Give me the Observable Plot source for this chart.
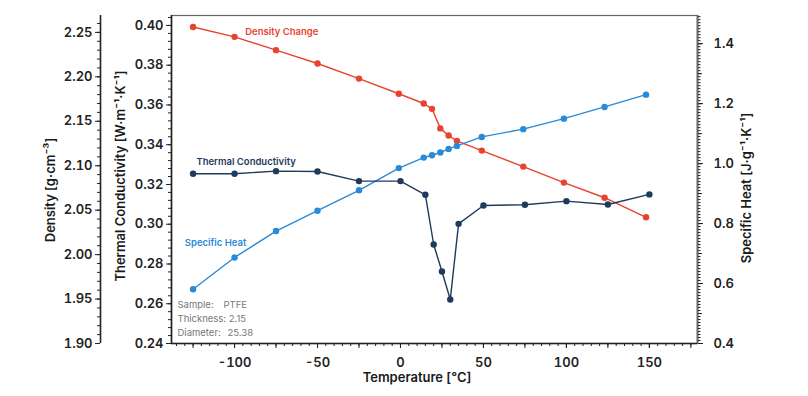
<!DOCTYPE html>
<html>
<head>
<meta charset="utf-8">
<script src="https://cdn.jsdelivr.net/npm/d3@7"></script>
<script src="https://cdn.jsdelivr.net/npm/@observablehq/plot@0.6"></script>
<style>
  html, body { margin: 0; padding: 0; background: #fff; }
  #wrap { position: relative; width: 808px; height: 396px; font-family: Inter, "Noto Sans", sans-serif; }
  #wrap svg { position: absolute; left: 0; top: 0; }
  .title { position: absolute; font-size: 13px; font-weight: 600; color: #1a1a1a; white-space: nowrap; transform: translate(-50%, -50%); }
  .rot { transform: translate(-50%, -50%) rotate(-90deg); }
</style>
</head>
<body>
<div id="wrap"></div>
<script>
// ---- data ----
const tcTemps = [-125, -100, -75, -50, -25, 0, 15, 20, 25, 30, 35, 50, 75, 100, 125, 150];
const tcValues = [0.3254, 0.3254, 0.3267, 0.3265, 0.3217, 0.3217, 0.3148, 0.2898, 0.2762, 0.2621, 0.3002, 0.3094, 0.3098, 0.3116, 0.3099, 0.3150];
const densTemps = [-125, -100, -75, -50, -25, -1, 14, 19, 24, 29, 34, 49, 74, 98.5, 123, 148];
const densValues = [2.256, 2.245, 2.230, 2.215, 2.198, 2.181, 2.170, 2.164, 2.142, 2.134, 2.128, 2.117, 2.099, 2.081, 2.064, 2.042];
const shTemps = [-125, -100, -75, -50, -25, -1, 14, 19, 24, 29, 34, 49, 74, 98.5, 123, 148];
const shValues = [0.581, 0.687, 0.775, 0.843, 0.911, 0.985, 1.020, 1.028, 1.037, 1.049, 1.059, 1.089, 1.115, 1.150, 1.189, 1.230];

const xTickLabels = [-100, -50, 0, 50, 100, 150];
const tcTickLabels = [0.24, 0.26, 0.28, 0.30, 0.32, 0.34, 0.36, 0.38, 0.40];
const densTickLabels = [1.90, 1.95, 2.00, 2.05, 2.10, 2.15, 2.20, 2.25];
const shTickLabels = [0.4, 0.6, 0.8, 1.0, 1.2, 1.4];

const colors = { density: "#e8432e", tc: "#1e3a5c", sh: "#2a8ad6", axis: "#222", frame: "#666", note: "#777" };

// ---- layout ----
const W = 808, H = 396;
const M = { top: 15, right: 111, bottom: 53, left: 171 };
const xDomain = [-138, 179];
const tcDomain = [0.24, 0.405];
const densDomain = [1.90, 2.269];
const shDomain = [0.4, 1.494];

const tcData = tcTemps.map((t, i) => ({ t, v: tcValues[i] }));
const densData = densTemps.map((t, i) => ({ t, v: densValues[i] }));
const shData = shTemps.map((t, i) => ({ t, v: shValues[i] }));

const base = {
  width: W, height: H,
  marginTop: M.top, marginRight: M.right, marginBottom: M.bottom, marginLeft: M.left,
  style: { background: "transparent", fontFamily: "Inter, 'Noto Sans', sans-serif", overflow: "visible" }
};
const tickFont = { fontSize: 13, fontWeight: 600, fill: colors.axis };
const minor = (a, b, s) => d3.range(Math.round(a / s), Math.round(b / s) + 1).map(k => +(k * s).toFixed(4));

// Base plot: x axis, TC axis, frame, TC series, notes
const p1 = Plot.plot({
  ...base,
  x: { domain: xDomain },
  y: { domain: tcDomain },
  marks: [
    Plot.frame({ stroke: colors.frame, strokeWidth: 1.2 }),
    Plot.axisX({ ticks: minor(-135, 175, 5), tickSize: 3, text: null, label: null, stroke: colors.axis }),
    Plot.axisX({ ticks: minor(-125, 175, 25), tickSize: 5, text: null, label: null, stroke: colors.axis }),
    Plot.axisX({ ticks: xTickLabels, tickSize: 5, tickPadding: 9, tickFormat: d => String(d), label: null, stroke: colors.axis, ...tickFont }),
    Plot.axisY({ ticks: minor(0.24, 0.404, 0.004), tickSize: 3, text: null, label: null, stroke: colors.axis }),
    Plot.axisY({ ticks: tcTickLabels, tickSize: 5, tickPadding: 3, tickFormat: d3.format(".2f"), label: null, stroke: colors.axis, ...tickFont }),
    Plot.ruleX([xDomain[0]], { stroke: colors.axis, strokeWidth: 1.6 }),
    Plot.ruleY([tcDomain[0]], { stroke: colors.axis, strokeWidth: 1.6 }),
    Plot.line(tcData, { x: "t", y: "v", stroke: colors.tc, strokeWidth: 1.4 }),
    Plot.dot(tcData, { x: "t", y: "v", fill: colors.tc, r: 3.2 }),
    Plot.text(["Thermal Conductivity"], { x: -123, y: 0.3312, textAnchor: "start", fill: colors.tc, fontSize: 9.5, fontWeight: 600 }),
    Plot.text(["Sample:"], { frameAnchor: "bottom-left", dx: 6, dy: -36, textAnchor: "start", fill: colors.note, fontSize: 9.5 }),
    Plot.text(["PTFE"], { frameAnchor: "bottom-left", dx: 52, dy: -36, textAnchor: "start", fill: colors.note, fontSize: 9.5 }),
    Plot.text(["Thickness: 2.15"], { frameAnchor: "bottom-left", dx: 6, dy: -22, textAnchor: "start", fill: colors.note, fontSize: 9.5 }),
    Plot.text(["Diameter:"], { frameAnchor: "bottom-left", dx: 6, dy: -8, textAnchor: "start", fill: colors.note, fontSize: 9.5 }),
    Plot.text(["25.38"], { frameAnchor: "bottom-left", dx: 56, dy: -8, textAnchor: "start", fill: colors.note, fontSize: 9.5 })
  ]
});

// Specific heat plot with right axis
const p2 = Plot.plot({
  ...base,
  x: { domain: xDomain, axis: null },
  y: { domain: shDomain },
  marks: [
    Plot.axisY({ anchor: "right", ticks: minor(0.4, 1.49, 0.01), tickSize: 2.5, text: null, label: null, stroke: colors.axis }),
    Plot.axisY({ anchor: "right", ticks: minor(0.5, 1.45, 0.1), tickSize: 4, text: null, label: null, stroke: colors.axis }),
    Plot.axisY({ anchor: "right", ticks: shTickLabels, tickSize: 5, tickPadding: 11, tickFormat: d3.format(".1f"), label: null, stroke: colors.axis, ...tickFont }),
    Plot.ruleX([xDomain[1]], { stroke: colors.axis, strokeWidth: 1.6 }),
    Plot.line(shData, { x: "t", y: "v", stroke: colors.sh, strokeWidth: 1.4 }),
    Plot.dot(shData, { x: "t", y: "v", fill: colors.sh, r: 3.2 }),
    Plot.text(["Specific Heat"], { x: -130, y: 0.737, textAnchor: "start", fill: colors.sh, fontSize: 9.5, fontWeight: 600 })
  ]
});

// Density series
const p3 = Plot.plot({
  ...base,
  x: { domain: xDomain, axis: null },
  y: { domain: densDomain, axis: null },
  marks: [
    Plot.line(densData, { x: "t", y: "v", stroke: colors.density, strokeWidth: 1.4 }),
    Plot.dot(densData, { x: "t", y: "v", fill: colors.density, r: 3.2 }),
    Plot.text(["Density Change"], { x: -93.6, y: 2.251, textAnchor: "start", fill: colors.density, fontSize: 9.5, fontWeight: 600 })
  ]
});

// Density axis (outer left)
const p4 = Plot.plot({
  ...base,
  marginLeft: 100,
  x: { domain: [0, 1], axis: null },
  y: { domain: densDomain },
  marks: [
    Plot.axisY({ ticks: minor(1.90, 2.26, 0.01), tickSize: 3, text: null, label: null, stroke: colors.axis }),
    Plot.axisY({ ticks: densTickLabels, tickSize: 5, tickPadding: 3, tickFormat: d3.format(".2f"), label: null, stroke: colors.axis, ...tickFont }),
    Plot.ruleX([0], { stroke: colors.axis, strokeWidth: 1.6 })
  ]
});

const wrap = document.getElementById("wrap");
[p4, p3, p2, p1].forEach(p => wrap.appendChild(p));

const titles = [
  { text: "Density [g·cm⁻³]", x: 50, y: 190, rot: true },
  { text: "Thermal Conductivity [W·m⁻¹·K⁻¹]", x: 120, y: 176, rot: true },
  { text: "Specific Heat [J·g⁻¹·K⁻¹]", x: 746, y: 188, rot: true },
  { text: "Temperature [°C]", x: 417, y: 377, rot: false }
];
titles.forEach(t => {
  const d = document.createElement("div");
  d.className = "title" + (t.rot ? " rot" : "");
  d.textContent = t.text;
  d.style.left = t.x + "px";
  d.style.top = t.y + "px";
  wrap.appendChild(d);
});
</script>
</body>
</html>
